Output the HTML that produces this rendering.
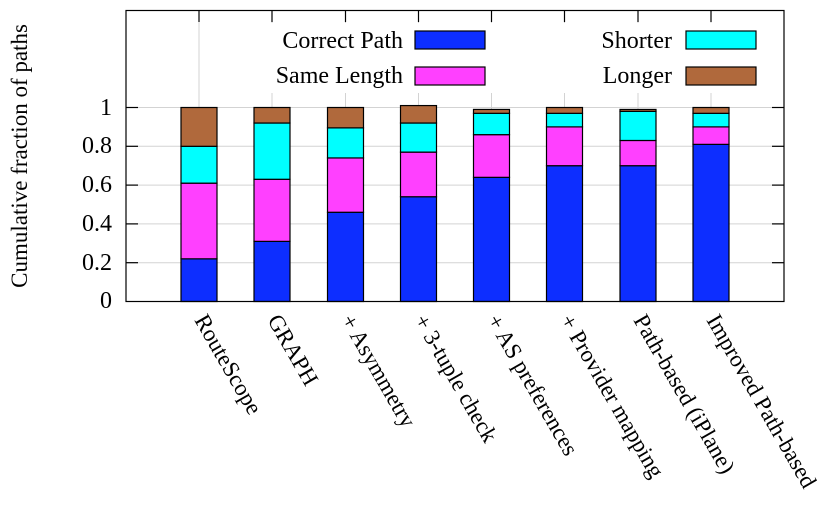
<!DOCTYPE html>
<html><head><meta charset="utf-8"><style>body{margin:0;background:#fff}svg{display:block}svg text{font-family:"Liberation Serif","DejaVu Serif",serif;font-size:23px}svg .lg text{font-size:24px}</style></head>
<body>
<svg width="833" height="506" xmlns="http://www.w3.org/2000/svg">
<g stroke="#d3d3d3" stroke-width="1">
<line x1="126" y1="262.7" x2="784" y2="262.7"/><line x1="126" y1="223.9" x2="784" y2="223.9"/>
<line x1="126" y1="185.1" x2="784" y2="185.1"/><line x1="126" y1="146.3" x2="784" y2="146.3"/>
<line x1="126" y1="107.5" x2="784" y2="107.5"/>
<line x1="199" y1="10" x2="199" y2="301"/><line x1="272" y1="10" x2="272" y2="301"/><line x1="345.5" y1="10" x2="345.5" y2="301"/><line x1="418.5" y1="10" x2="418.5" y2="301"/><line x1="491.5" y1="10" x2="491.5" y2="301"/><line x1="564.5" y1="10" x2="564.5" y2="301"/><line x1="638" y1="10" x2="638" y2="301"/><line x1="711" y1="10" x2="711" y2="301"/>
</g>
<rect x="270" y="23" width="500" height="70" fill="#fff"/>
<g stroke="#000" stroke-width="1.2" id="bars"></g>
<g stroke="#000" stroke-width="1.2">
<line x1="199" y1="10.5" x2="199" y2="22"/><line x1="272" y1="10.5" x2="272" y2="22"/><line x1="345.5" y1="10.5" x2="345.5" y2="22"/><line x1="418.5" y1="10.5" x2="418.5" y2="22"/><line x1="491.5" y1="10.5" x2="491.5" y2="22"/><line x1="564.5" y1="10.5" x2="564.5" y2="22"/><line x1="638" y1="10.5" x2="638" y2="22"/><line x1="711" y1="10.5" x2="711" y2="22"/>
<line x1="126" y1="262.7" x2="138" y2="262.7"/><line x1="126" y1="223.9" x2="138" y2="223.9"/><line x1="126" y1="185.1" x2="138" y2="185.1"/><line x1="126" y1="146.3" x2="138" y2="146.3"/><line x1="126" y1="107.5" x2="138" y2="107.5"/>
<line x1="772" y1="262.7" x2="784" y2="262.7"/><line x1="772" y1="223.9" x2="784" y2="223.9"/><line x1="772" y1="185.1" x2="784" y2="185.1"/><line x1="772" y1="146.3" x2="784" y2="146.3"/><line x1="772" y1="107.5" x2="784" y2="107.5"/>
<rect x="126" y="10.5" width="658" height="291" fill="none"/>
</g>
<g text-anchor="end" class="lg">
<text x="112" y="308">0</text><text x="112" y="270">0.2</text><text x="112" y="231">0.4</text><text x="112" y="192">0.6</text><text x="112" y="153">0.8</text><text x="112" y="115">1</text>
<text x="403" y="48">Correct Path</text><text x="403" y="83">Same Length</text>
<text x="672" y="48">Shorter</text><text x="672" y="83">Longer</text>
</g>
<g stroke="#000" stroke-width="1.2">
<rect x="415" y="31" width="70" height="18" fill="#0d2eff"/><rect x="415" y="67" width="70" height="18" fill="#ff40ff"/>
<rect x="686" y="31" width="70" height="18" fill="#00ffff"/><rect x="686" y="67" width="70" height="18" fill="#b0693c"/>
</g>
<text transform="translate(27,156) rotate(-90)" text-anchor="middle">Cumulative fraction of paths</text>
<g id="xl"></g>
<script>
var d=[[199,.22,.61,.80,1],[272,.31,.63,.92,1],[345.5,.46,.74,.895,1],[418.5,.54,.77,.92,1.01],[491.5,.64,.86,.97,.99],[564.5,.70,.90,.97,1],[638,.70,.83,.98,.99],[711,.81,.90,.97,1]];
var c=['#0d2eff','#ff40ff','#00ffff','#b0693c'],ns='http://www.w3.org/2000/svg',g=document.getElementById('bars');
function Y(v){return 301.5-v*194;}
d.forEach(function(b){var p=0;for(var i=0;i<4;i++){var r=document.createElementNS(ns,'rect');r.setAttribute('x',b[0]-18);r.setAttribute('width',36);r.setAttribute('y',Y(b[i+1]));r.setAttribute('height',Y(p)-Y(b[i+1]));r.setAttribute('fill',c[i]);g.appendChild(r);p=b[i+1];}});
var L=['RouteScope','GRAPH','+ Asymmetry','+ 3-tuple check','+ AS preferences','+ Provider mapping','Path-based (iPlane)','Improved Path-based'],xl=document.getElementById('xl');
L.forEach(function(t,i){var e=document.createElementNS(ns,'text');e.setAttribute('transform','translate('+(d[i][0]-5)+',320) rotate(60)');e.textContent=t;xl.appendChild(e);});
</script>
</svg>
</body></html>
